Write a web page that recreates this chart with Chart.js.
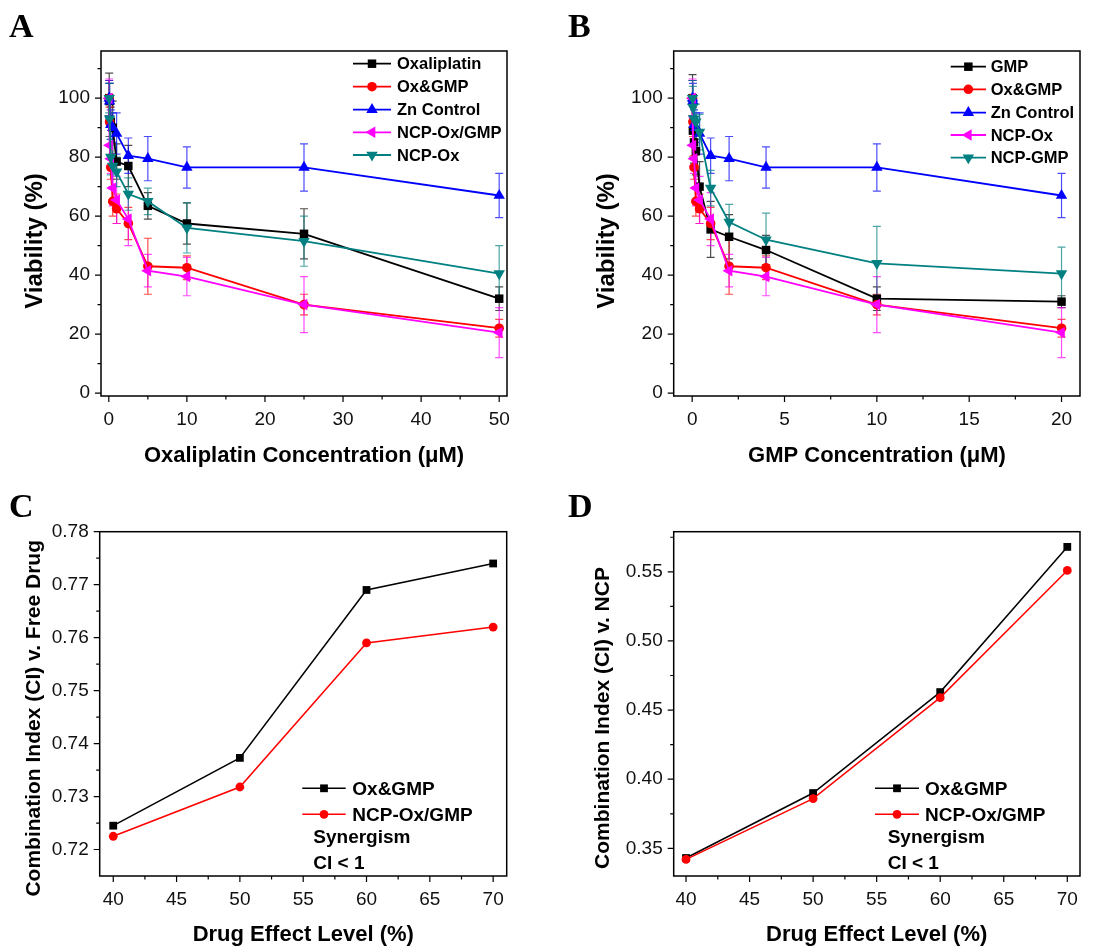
<!DOCTYPE html>
<html>
<head>
<meta charset="utf-8">
<script src="https://cdn.jsdelivr.net/npm/chart.js@4.4.1/dist/chart.umd.min.js"></script>
<style>
  html, body { margin: 0; padding: 0; background: #fff; }
  #wrap { position: relative; width: 1118px; height: 948px; }
  canvas { position: absolute; }
</style>
</head>
<body>
<div id="wrap">
  <canvas id="chartA" width="559" height="474" style="left:0;top:0"></canvas>
  <canvas id="chartB" width="559" height="474" style="left:559px;top:0"></canvas>
  <canvas id="chartC" width="559" height="474" style="left:0;top:474px"></canvas>
  <canvas id="chartD" width="559" height="474" style="left:559px;top:474px"></canvas>
</div>
<script>
// concentrations (uM)
const concA = [0.05, 0.1, 0.25, 0.5, 1, 2.5, 5, 10, 25, 50];
const concB = [0.02, 0.04, 0.1, 0.2, 0.4, 1, 2, 4, 10, 20];

// panel A, viability (%) and error
const oxaliplatinA = [100, 99, 92, 90, 78.5, 77, 63.5, 57.5, 54, 32];
const oxaliplatinErrA = [8.5, 6, 5, 9, 6, 7, 4.5, 7, 8.5, 4];
const oxGmpA = [100, 92, 76.5, 65, 62.5, 57.5, 43, 42.5, 30, 22];
const oxGmpErrA = [6, 5, 4, 5, 5, 5.5, 9.5, 4, 3.5, 3];
const znA = [100, 99, 91, 90, 88, 80.5, 79.5, 76.5, 76.5, 67];
const znErrA = [6, 6, 5, 5, 7, 6, 7.5, 7, 8, 7.5];
const ncpOxGmpA = [100, 84, 79.5, 69.5, 65.5, 59, 41.5, 39.5, 30, 20.5];
const ncpOxGmpErrA = [6.5, 7, 5, 6, 8, 9, 5.5, 6.5, 9.5, 8.5];
const ncpOxA = [100, 93, 80, 77, 75, 67.5, 65, 56, 51.5, 40.5];
const ncpOxErrA = [5, 6, 6, 7, 5, 5.5, 4.5, 8.5, 8.5, 9.5];

// panel B
const gmpB = [100, 89, 85, 82, 70, 55.5, 53, 48.5, 32, 31];
const gmpErrB = [8, 9, 7, 8, 8.5, 9.5, 7.5, 5, 4, 2];
const oxGmpB = [100, 92, 76.5, 65, 62.5, 57.5, 43, 42.5, 30, 22];
const oxGmpErrB = [6, 5, 4, 5, 5, 5.5, 9.5, 4, 3.5, 3];
const znB = [100, 99, 91, 90, 88, 80.5, 79.5, 76.5, 76.5, 67];
const znErrB = [6, 6, 5, 5, 7, 6, 7.5, 7, 8, 7.5];
const ncpOxB = [100, 84, 79.5, 69.5, 65.5, 59, 41.5, 39.5, 30, 20.5];
const ncpOxErrB = [6.5, 7, 5, 6, 8, 9, 5.5, 6.5, 9.5, 8.5];
const ncpGmpB = [100, 97, 93, 92, 88.5, 69.5, 58, 52, 44, 40.5];
const ncpGmpErrB = [6, 7, 5, 6, 6, 6, 6, 9, 12.5, 9];

// panels C and D, combination index
const effectLevel = [40, 50, 60, 70];
const ciFreeOxGmp = [0.7245, 0.7373, 0.769, 0.774];
const ciFreeNcp = [0.7225, 0.7318, 0.759, 0.762];
const ciNcpOxGmp = [0.343, 0.390, 0.463, 0.568];
const ciNcpNcp = [0.342, 0.386, 0.459, 0.551];

const FONT = '"Liberation Sans", Arial, sans-serif';
const BLACK = '#000000', RED = '#ff0000', BLUE = '#0000ff', MAGENTA = '#ff00ff', TEAL = '#008080';

function toPoints(xs, ys) {
  return xs.map((x, i) => ({ x: x, y: ys[i] }));
}

function fade(hex, a) {
  const n = parseInt(hex.slice(1), 16);
  return 'rgba(' + (n >> 16) + ',' + ((n >> 8) & 255) + ',' + (n & 255) + ',' + a + ')';
}

function series(label, xs, ys, errs, color, style, rot, r, lw, idx) {
  return {
    label: label,
    data: toPoints(xs, ys),
    errors: errs,
    borderColor: color,
    backgroundColor: color,
    borderWidth: lw,
    pointStyle: style,
    pointRotation: rot,
    pointRadius: r,
    pointHoverRadius: r,
    pointBorderWidth: 0,
    tension: 0,
    clip: false,
    order: 10 - idx
  };
}

function drawMarker(ctx, style, x, y, r, rot, color) {
  ctx.save();
  ctx.fillStyle = color;
  ctx.beginPath();
  if (style === 'rect') {
    const s = r * Math.SQRT1_2;
    ctx.rect(x - s, y - s, 2 * s, 2 * s);
  } else if (style === 'circle') {
    ctx.arc(x, y, r, 0, Math.PI * 2);
  } else {
    let a = rot * Math.PI / 180;
    ctx.moveTo(x + Math.sin(a) * r, y - Math.cos(a) * r);
    for (let k = 0; k < 2; k++) {
      a += 2 * Math.PI / 3;
      ctx.lineTo(x + Math.sin(a) * r, y - Math.cos(a) * r);
    }
    ctx.closePath();
  }
  ctx.fill();
  ctx.restore();
}

const errorBars = {
  id: 'errorBars',
  beforeDatasetsDraw(chart) {
    const ctx = chart.ctx, ys = chart.scales.y;
    chart.data.datasets.forEach((ds, i) => {
      if (!ds.errors) return;
      const meta = chart.getDatasetMeta(i);
      ctx.save();
      ctx.strokeStyle = fade(ds.borderColor, 0.7);
      ctx.lineWidth = 1.2;
      meta.data.forEach((pt, j) => {
        const v = ds.data[j].y, e = ds.errors[j];
        const top = ys.getPixelForValue(v + e), bot = ys.getPixelForValue(v - e);
        ctx.beginPath();
        ctx.moveTo(pt.x, top); ctx.lineTo(pt.x, bot);
        ctx.moveTo(pt.x - 4, top); ctx.lineTo(pt.x + 4, top);
        ctx.moveTo(pt.x - 4, bot); ctx.lineTo(pt.x + 4, bot);
        ctx.stroke();
      });
      ctx.restore();
    });
  }
};

function minorValues(scale) {
  const t = scale.ticks.map(k => k.value);
  const step = t[1] - t[0];
  const out = [t[0] - step / 2];
  t.forEach(v => out.push(v + step / 2));
  const eps = step * 0.01;
  return out.filter(v => v > scale.min + eps && v < scale.max - eps);
}

const decor = {
  id: 'decor',
  afterDraw(chart, args, o) {
    const ctx = chart.ctx, a = chart.chartArea;
    const xs = chart.scales.x, ys = chart.scales.y;
    ctx.save();
    // frame
    ctx.strokeStyle = '#000';
    ctx.lineWidth = 1.5;
    ctx.strokeRect(a.left, a.top, a.right - a.left, a.bottom - a.top);
    // ticks
    ctx.lineWidth = 1.2;
    ctx.beginPath();
    xs.ticks.forEach(t => { const p = xs.getPixelForValue(t.value); ctx.moveTo(p, a.bottom); ctx.lineTo(p, a.bottom + 6); });
    minorValues(xs).forEach(v => { const p = xs.getPixelForValue(v); ctx.moveTo(p, a.bottom); ctx.lineTo(p, a.bottom + 3.5); });
    ys.ticks.forEach(t => { const p = ys.getPixelForValue(t.value); ctx.moveTo(a.left, p); ctx.lineTo(a.left - 6, p); });
    minorValues(ys).forEach(v => { const p = ys.getPixelForValue(v); ctx.moveTo(a.left, p); ctx.lineTo(a.left - 3.5, p); });
    ctx.stroke();

    ctx.fillStyle = '#000';
    // panel letter
    ctx.font = 'bold 34px "Liberation Serif", "Times New Roman", serif';
    ctx.textAlign = 'left';
    ctx.textBaseline = 'alphabetic';
    ctx.fillText(o.letter.text, o.letter.x, o.letter.y);

    // axis titles
    ctx.textAlign = 'center';
    ctx.textBaseline = 'middle';
    ctx.font = 'bold ' + o.xTitle.size + 'px ' + FONT;
    ctx.fillText(o.xTitle.text, o.xTitle.x, o.xTitle.y);
    ctx.save();
    ctx.translate(o.yTitle.x, o.yTitle.y);
    ctx.rotate(-Math.PI / 2);
    ctx.font = 'bold ' + o.yTitle.size + 'px ' + FONT;
    ctx.fillText(o.yTitle.text, 0, 0);
    ctx.restore();

    // legend
    const lg = o.legend;
    ctx.font = 'bold ' + lg.size + 'px ' + FONT;
    ctx.textAlign = 'left';
    chart.data.datasets.forEach((ds, i) => {
      const y = lg.rows[i];
      ctx.strokeStyle = ds.borderColor;
      ctx.lineWidth = ds.borderWidth;
      ctx.beginPath();
      ctx.moveTo(lg.x0, y); ctx.lineTo(lg.x1, y);
      ctx.stroke();
      drawMarker(ctx, ds.pointStyle, (lg.x0 + lg.x1) / 2, y, ds.pointRadius, ds.pointRotation, ds.borderColor);
      ctx.fillStyle = '#000';
      ctx.fillText(ds.label, lg.tx, y + 1);
    });
    (o.notes || []).forEach(n => ctx.fillText(n.text, n.x, n.y));
    ctx.restore();
  }
};

function makeChart(id, datasets, area, xOpt, yOpt, deco) {
  const W = 559, H = 474;
  const tickFont = { family: FONT, size: 19 };
  return new Chart(document.getElementById(id), {
    type: 'line',
    data: { datasets: datasets },
    options: {
      responsive: false,
      animation: false,
      events: [],
      layout: { padding: { left: 0, top: area.top, right: W - area.right, bottom: 0 } },
      plugins: { legend: { display: false }, tooltip: { enabled: false }, decor: deco },
      scales: {
        x: {
          type: 'linear', min: xOpt.min, max: xOpt.max,
          grid: { display: false, drawTicks: false }, border: { display: false },
          ticks: { stepSize: xOpt.step, includeBounds: false, padding: 12, color: '#111', font: tickFont, maxRotation: 0, autoSkip: false },
          afterFit: s => { s.height = H - area.bottom; }
        },
        y: {
          type: 'linear', min: yOpt.min, max: yOpt.max,
          grid: { display: false, drawTicks: false }, border: { display: false },
          ticks: { stepSize: yOpt.step, includeBounds: false, padding: 11, color: '#111', font: tickFont, autoSkip: false,
                   callback: yOpt.fmt || (v => v) },
          afterFit: s => { s.width = area.left; }
        }
      }
    },
    plugins: [errorBars, decor]
  });
}

// Panel A
makeChart('chartA', [
  series('Oxaliplatin', concA, oxaliplatinA, oxaliplatinErrA, BLACK, 'rect', 0, 6, 1.8, 0),
  series('Ox&GMP', concA, oxGmpA, oxGmpErrA, RED, 'circle', 0, 4.8, 1.8, 1),
  series('Zn Control', concA, znA, znErrA, BLUE, 'triangle', 0, 6.6, 1.8, 2),
  series('NCP-Ox/GMP', concA, ncpOxGmpA, ncpOxGmpErrA, MAGENTA, 'triangle', 270, 6.6, 1.8, 3),
  series('NCP-Ox', concA, ncpOxA, ncpOxErrA, TEAL, 'triangle', 180, 6.6, 1.8, 4)
], { left: 101, top: 51, right: 507, bottom: 396 },
  { min: -1, max: 51, step: 10 }, { min: -1, max: 116, step: 20 },
  {
    letter: { text: 'A', x: 9, y: 37 },
    xTitle: { text: 'Oxaliplatin Concentration (\u03bcM)', size: 22, x: 304, y: 456 },
    yTitle: { text: 'Viability (%)', size: 24, x: 35, y: 241 },
    legend: { size: 16.5, x0: 353, x1: 391, tx: 397, rows: [63.7, 86.7, 109.7, 132.3, 155] }
  });

// Panel B
makeChart('chartB', [
  series('GMP', concB, gmpB, gmpErrB, BLACK, 'rect', 0, 6, 1.8, 0),
  series('Ox&GMP', concB, oxGmpB, oxGmpErrB, RED, 'circle', 0, 4.8, 1.8, 1),
  series('Zn Control', concB, znB, znErrB, BLUE, 'triangle', 0, 6.6, 1.8, 2),
  series('NCP-Ox', concB, ncpOxB, ncpOxErrB, MAGENTA, 'triangle', 270, 6.6, 1.8, 3),
  series('NCP-GMP', concB, ncpGmpB, ncpGmpErrB, TEAL, 'triangle', 180, 6.6, 1.8, 4)
], { left: 114.7, top: 51, right: 521, bottom: 396 },
  { min: -1, max: 21, step: 5 }, { min: -1, max: 116, step: 20 },
  {
    letter: { text: 'B', x: 9, y: 37 },
    xTitle: { text: 'GMP Concentration (\u03bcM)', size: 22, x: 318, y: 456 },
    yTitle: { text: 'Viability (%)', size: 24, x: 48.5, y: 241 },
    legend: { size: 16.5, x0: 391.7, x1: 427, tx: 431.7, rows: [66.7, 89.3, 112.7, 135, 157.7] }
  });

// Panel C
makeChart('chartC', [
  series('Ox&GMP', effectLevel, ciFreeOxGmp, null, BLACK, 'rect', 0, 5.5, 1.5, 0),
  series('NCP-Ox/GMP', effectLevel, ciFreeNcp, null, RED, 'circle', 0, 4.4, 1.5, 1)
], { left: 99.7, top: 57.7, right: 506.7, bottom: 402 },
  { min: 38.93, max: 71.07, step: 5 }, { min: 0.715, max: 0.78, step: 0.01, fmt: v => v.toFixed(2) },
  {
    letter: { text: 'C', x: 9, y: 42.7 },
    xTitle: { text: 'Drug Effect Level (%)', size: 22, x: 303.3, y: 461 },
    yTitle: { text: 'Combination Index (CI) v. Free Drug', size: 21, x: 34, y: 244.3 },
    legend: { size: 19, x0: 302.3, x1: 345.7, tx: 352.3, rows: [314.3, 340.3] },
    notes: [{ text: 'Synergism', x: 313.3, y: 364 }, { text: 'CI < 1', x: 313.3, y: 390 }]
  });

// Panel D
makeChart('chartD', [
  series('Ox&GMP', effectLevel, ciNcpOxGmp, null, BLACK, 'rect', 0, 5.5, 1.5, 0),
  series('NCP-Ox/GMP', effectLevel, ciNcpNcp, null, RED, 'circle', 0, 4.4, 1.5, 1)
], { left: 114.7, top: 57.7, right: 521, bottom: 402 },
  { min: 39.03, max: 71, step: 5 }, { min: 0.33, max: 0.579, step: 0.05, fmt: v => v.toFixed(2) },
  {
    letter: { text: 'D', x: 9, y: 42.7 },
    xTitle: { text: 'Drug Effect Level (%)', size: 22, x: 317.7, y: 461 },
    yTitle: { text: 'Combination Index (CI) v. NCP', size: 21, x: 44.5, y: 244 },
    legend: { size: 19, x0: 316, x1: 360, tx: 366, rows: [314.3, 340.3] },
    notes: [{ text: 'Synergism', x: 328.7, y: 364 }, { text: 'CI < 1', x: 328.7, y: 390 }]
  });
</script>
</body>
</html>
